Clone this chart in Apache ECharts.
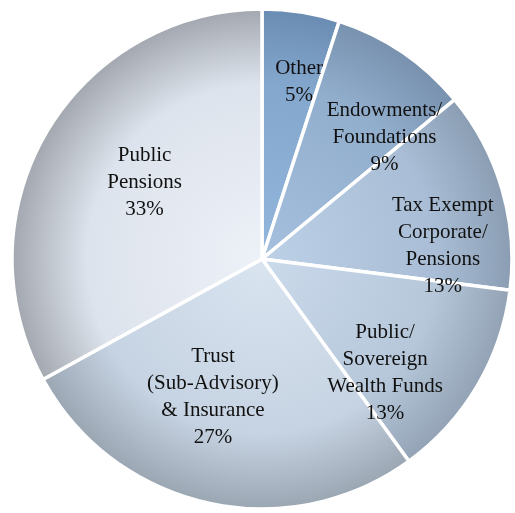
<!DOCTYPE html>
<html>
<head>
<meta charset="utf-8">
<script src="https://cdn.jsdelivr.net/npm/echarts@6/dist/echarts.min.js"></script>
<style>
  html, body { margin: 0; padding: 0; background: #ffffff; }
  #chart { width: 515px; height: 513px; }
</style>
</head>
<body>
<div id="chart"></div>
<script>
// Client mix by type (share of total, %)
const categories = [
  'Other',
  'Endowments/\nFoundations',
  'Tax Exempt\nCorporate/\nPensions',
  'Public/\nSovereign\nWealth Funds',
  'Trust\n(Sub-Advisory)\n& Insurance',
  'Public\nPensions'
];
const shares = [5, 9, 13, 13, 27, 33];

// Shading per slice: [inner, middle, rim]
const sliceShades = [
  ['#93b6dc', '#84a7ce', '#6a8cb2'],
  ['#a5c0de', '#92aecd', '#7791ae'],
  ['#bcd0e6', '#a9bed6', '#8a9db3'],
  ['#cadaeb', '#b6c7da', '#93a3b5'],
  ['#d9e4f0', '#c6d3e2', '#9ba6b3'],
  ['#edf1f8', '#dde3ec', '#a3a8b0']
];

// Label anchor per slice: [angle clockwise from 12 o'clock (deg), fraction of radius]
const labelAnchors = [
  [11.8, 0.725],
  [45.2, 0.69],
  [86.0, 0.725],
  [132.7, 0.67],
  [199.6, 0.585],
  [303.0, 0.56]
];

const cx = 262, cy = 259, R = 250;

function shade(i) {
  const s = sliceShades[i];
  return {
    type: 'radial', x: cx, y: cy, r: R, global: true,
    colorStops: [
      { offset: 0, color: s[0] },
      { offset: 0.7, color: s[1] },
      { offset: 1, color: s[2] }
    ]
  };
}

const chart = echarts.init(document.getElementById('chart'), null, { renderer: 'canvas' });
chart.setOption({
  backgroundColor: '#ffffff',
  animation: false,
  series: [{
    type: 'pie',
    center: [cx, cy],
    radius: [0, R],
    startAngle: 90,
    clockwise: true,
    avoidLabelOverlap: false,
    silent: true,
    data: categories.map((name, i) => ({
      name: name,
      value: shares[i],
      itemStyle: { color: shade(i) }
    })),
    itemStyle: { borderColor: '#ffffff', borderWidth: 3.5 },
    label: {
      show: true,
      position: 'inside',
      formatter: p => p.name + '\n' + p.value + '%',
      fontFamily: '"Liberation Serif", "Times New Roman", serif',
      fontSize: 21,
      lineHeight: 27,
      color: '#111111',
      align: 'center'
    },
    labelLine: { show: false },
    labelLayout: function (params) {
      const a = labelAnchors[params.dataIndex];
      const rad = a[0] * Math.PI / 180;
      return {
        x: cx + a[1] * R * Math.sin(rad),
        y: cy - a[1] * R * Math.cos(rad),
        align: 'center',
        verticalAlign: 'middle'
      };
    }
  }]
});
</script>
</body>
</html>
